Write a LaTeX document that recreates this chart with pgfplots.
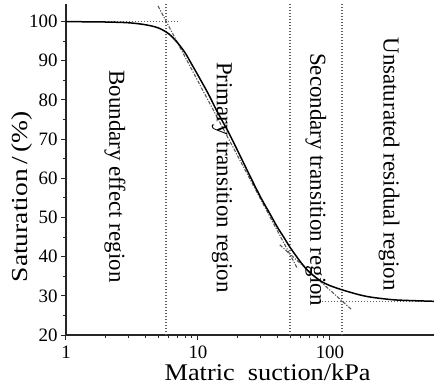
\documentclass[border=0pt]{standalone}
\usepackage{graphicx}
\usepackage{pgfplots}
\pgfplotsset{compat=1.18}
\usepackage{fontspec}
\setmainfont{Liberation Serif}
\begin{document}
\begin{tikzpicture}
\path[use as bounding box] (-66bp,-53bp) rectangle (368bp,335bp);
\begin{axis}[
  at={(0bp,0bp)}, anchor=south west,
  scale only axis, width=368bp, height=331bp,
  xmode=log, xmin=1, xmax=614, ymin=20, ymax=104.5,
  axis x line=bottom, axis y line=left,
  axis line style={-, line width=1.6bp, black!85},
  xtick={1,10,100}, xticklabels={1,10,100},
  ytick={20,30,...,100}, minor y tick num=1,
  tick align=outside, major tick length=5bp, minor tick length=3bp,
  tick style={line width=1bp, black!85},
  /pgf/number format/assume math mode=true,
  tick label style={font=\fontsize{19}{19}\selectfont},
  xticklabel style={yshift=-2bp},
  xlabel={\scalebox{1.1}[1]{Matric\ \ suction/kPa}},
  xlabel style={at={(axis description cs:0.548,0)}, anchor=base, yshift=-45bp, font=\fontsize{24}{24}\selectfont},
  ylabel={\scalebox{1.2}[1]{Saturation\,/\,(\%)}},
  ylabel style={at={(axis description cs:-0.12,0.418)}, anchor=center, font=\fontsize{23}{23}\selectfont},
]
% dotted guide lines
\addplot[gray!75!black, line width=1.6bp, dash pattern=on 1.5bp off 1.5bp] coordinates {(5.75,20) (5.75,104.5)};
\addplot[gray!75!black, line width=1.6bp, dash pattern=on 1.5bp off 1.5bp] coordinates {(49.8,20) (49.8,104.5)};
\addplot[gray!75!black, line width=1.6bp, dash pattern=on 1.5bp off 1.5bp] coordinates {(123,20) (123,104.5)};
\addplot[gray!75!black, line width=1.6bp, dash pattern=on 1.5bp off 1.5bp] coordinates {(1,100) (7.0,100)};
\addplot[gray!75!black, line width=1.6bp, dash pattern=on 1.5bp off 1.5bp] coordinates {(87,28.6) (614,28.6)};
% tangent lines
\addplot[gray!70!black, line width=1.1bp, dash pattern=on 3.5bp off 1.5bp on 1.2bp off 1.5bp] coordinates {(4.98,104) (56.2,37.2)};
\addplot[gray!70!black, line width=1.1bp, dash pattern=on 3.5bp off 1.5bp on 1.2bp off 1.5bp] coordinates {(41.7,43.0) (144.5,26.6)};
% SWCC curve
\addplot[black, line width=1.5bp, smooth] coordinates {
(1,100) (2,99.9) (3,99.7) (4,99.2) (5,98.4) (6,96.9) (7,94.6) (8,92.0) (9,89.0)
(10,86.3) (12,81.5) (14,77.0) (17,71.8) (20,67.0) (25,60.3) (30,55.0) (35,51.0)
(40,47.5) (45,44.8) (50,42.3) (60,38.6) (70,36.0) (85,33.8) (100,32.6) (130,31.3)
(170,30.2) (210,29.6) (300,29.0) (400,28.8) (614,28.6)};
% region labels
\node[rotate=-90, anchor=west, inner sep=0pt, font=\fontsize{23}{23}\selectfont] at (axis cs:2.35,87.6) {Boundary effect region};
\node[rotate=-90, anchor=west, inner sep=0pt, font=\fontsize{23}{23}\selectfont] at (axis cs:15.2,89.7) {Primary transition region};
\node[rotate=-90, anchor=west, inner sep=0pt, font=\fontsize{23}{23}\selectfont] at (axis cs:78.3,92.0) {Secondary transition region};
\node[rotate=-90, anchor=west, inner sep=0pt, font=\fontsize{23}{23}\selectfont] at (axis cs:280,96) {Unsaturated residual region};
\end{axis}
\end{tikzpicture}
\end{document}
